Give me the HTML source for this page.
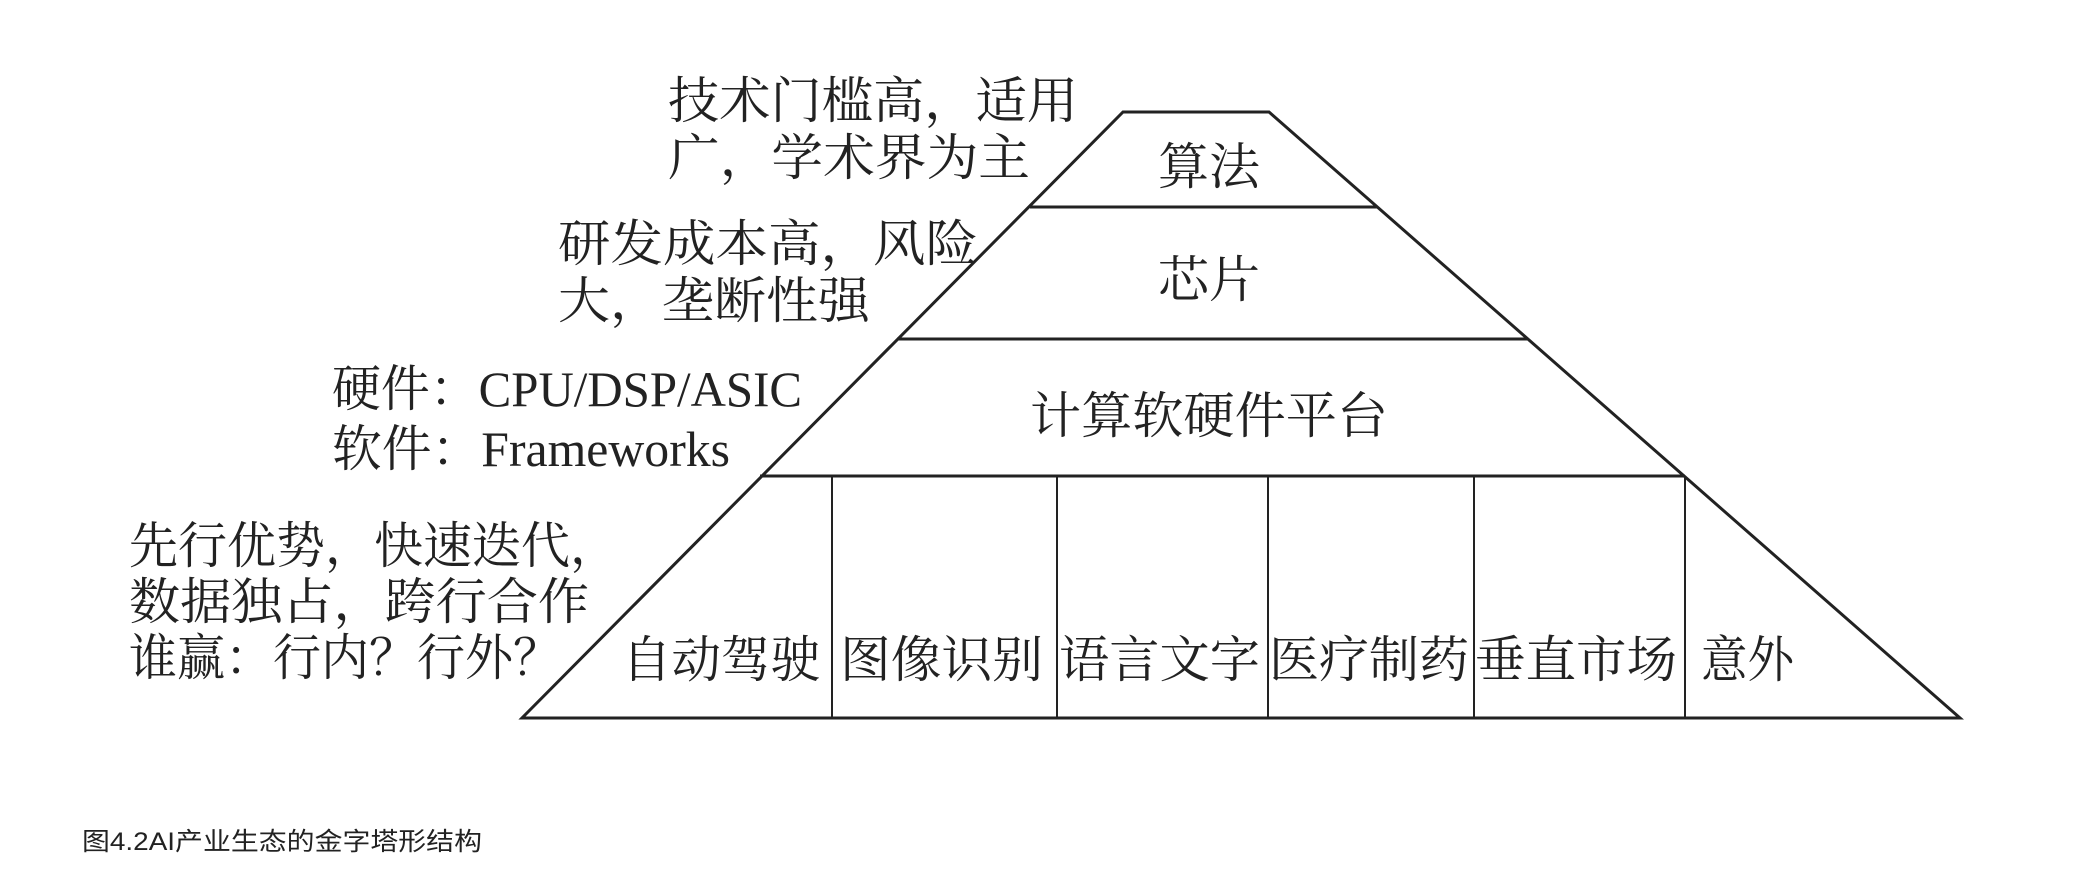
<!DOCTYPE html>
<html><head><meta charset="utf-8"><style>
html,body{margin:0;padding:0;background:#fff;}
svg{display:block;}
text{font-family:"Liberation Serif","Noto Serif CJK SC","Noto Sans CJK SC",serif;fill:#222;font-size:50px;}
.s{font-family:"Liberation Sans","Noto Sans CJK SC",sans-serif;font-size:25px;fill:#222;}
</style></head><body>
<svg width="2084" height="884" viewBox="0 0 2084 884" xmlns="http://www.w3.org/2000/svg">
<g stroke="#222" stroke-width="3" fill="none">
<polygon points="1123,112 1269,112 1960,718 522,718"/>
<line x1="1030" y1="207" x2="1377" y2="207"/>
<line x1="897" y1="339" x2="1527" y2="339"/>
<line x1="760" y1="476" x2="1685" y2="476"/>
<g stroke-width="2">
<line x1="832" y1="476" x2="832" y2="718"/>
<line x1="1057" y1="476" x2="1057" y2="718"/>
<line x1="1268" y1="476" x2="1268" y2="718"/>
<line x1="1474" y1="476" x2="1474" y2="718"/>
<line x1="1685" y1="476" x2="1685" y2="718"/>
</g>
</g>
<text x="668" y="118" textLength="410" lengthAdjust="spacingAndGlyphs">技术门槛高，适用</text>
<text x="668" y="175" textLength="362" lengthAdjust="spacingAndGlyphs">广，学术界为主</text>
<text x="558" y="261" textLength="420" lengthAdjust="spacingAndGlyphs">研发成本高，风险</text>
<text x="558" y="318" textLength="312" lengthAdjust="spacingAndGlyphs">大，垄断性强</text>
<text x="332" y="406" textLength="470" lengthAdjust="spacingAndGlyphs">硬件：CPU/DSP/ASIC</text>
<text x="332" y="466" textLength="398" lengthAdjust="spacingAndGlyphs">软件：Frameworks</text>
<text x="129" y="563" textLength="490" lengthAdjust="spacingAndGlyphs">先行优势，快速迭代，</text>
<text x="129" y="619" textLength="460" lengthAdjust="spacingAndGlyphs">数据独占，跨行合作</text>
<text x="129" y="675" textLength="432" lengthAdjust="spacingAndGlyphs">谁赢：行内？行外？</text>
<text x="1158" y="184" textLength="102" lengthAdjust="spacingAndGlyphs">算法</text>
<text x="1158" y="297" textLength="102" lengthAdjust="spacingAndGlyphs">芯片</text>
<text x="1030" y="433" textLength="358" lengthAdjust="spacingAndGlyphs">计算软硬件平台</text>
<text x="622" y="677" textLength="198" lengthAdjust="spacingAndGlyphs">自动驾驶</text>
<text x="840" y="677" textLength="203" lengthAdjust="spacingAndGlyphs">图像识别</text>
<text x="1059" y="677" textLength="201" lengthAdjust="spacingAndGlyphs">语言文字</text>
<text x="1269" y="677" textLength="200" lengthAdjust="spacingAndGlyphs">医疗制药</text>
<text x="1475" y="677" textLength="202" lengthAdjust="spacingAndGlyphs">垂直市场</text>
<text x="1701" y="677" textLength="93" lengthAdjust="spacingAndGlyphs">意外</text>
<text class="s" x="82" y="850" textLength="400" lengthAdjust="spacingAndGlyphs">图4.2AI产业生态的金字塔形结构</text>
</svg>
</body></html>
